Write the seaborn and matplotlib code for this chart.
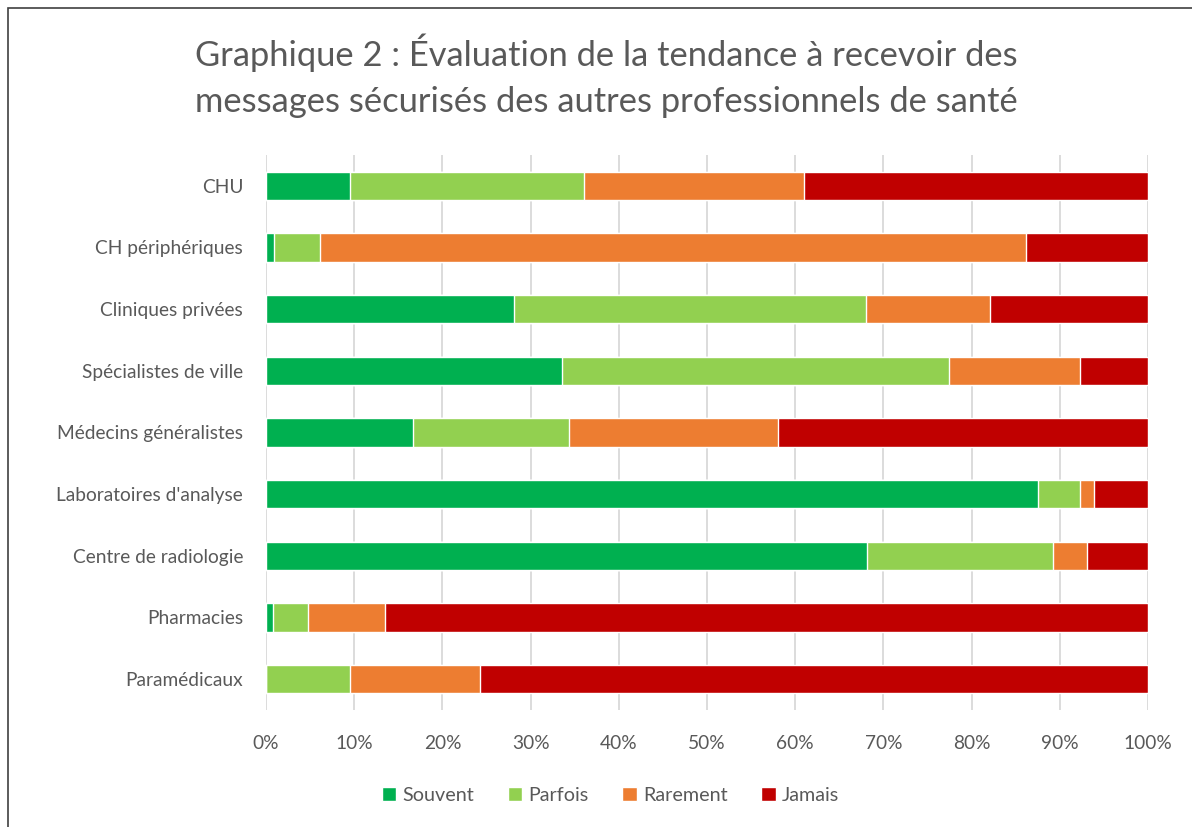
import numpy as np
import pandas as pd
import seaborn as sns
import matplotlib.pyplot as plt
from matplotlib.patches import Patch, Rectangle

# Données (en %)
categories = ["CHU", "CH périphériques", "Cliniques privées", "Spécialistes de ville",
              "Médecins généralistes", "Laboratoires d'analyse", "Centre de radiologie",
              "Pharmacies", "Paramédicaux"]
souvent = [9.5, 0.9, 28.1, 33.6, 16.7, 87.5, 68.2, 0.8, 0.0]
parfois = [26.6, 5.2, 39.9, 43.9, 17.6, 4.8, 21.0, 4.0, 9.5]
rarement = [24.9, 80.1, 14.1, 14.8, 23.7, 1.6, 3.9, 8.7, 14.8]
jamais = [39.0, 13.8, 17.9, 7.7, 42.0, 6.1, 6.9, 86.5, 75.7]
series = ["Souvent", "Parfois", "Rarement", "Jamais"]
couleurs = ["#00B050", "#92D050", "#ED7D31", "#C00000"]

df = pd.DataFrame({"Catégorie": categories, "Souvent": souvent, "Parfois": parfois,
                   "Rarement": rarement, "Jamais": jamais})
cumul = df[series].cumsum(axis=1)

sns.set_style("white")
plt.rcParams["font.family"] = ["Lato", "DejaVu Sans"]
gris = "#595959"

fig = plt.figure(figsize=(11.92, 8.27), dpi=100)
ax = fig.add_axes([0.2232, 0.1415, 0.7398, 0.6711])

# barres empilées : on trace les cumuls du plus grand au plus petit
for nom, couleur in reversed(list(zip(series, couleurs))):
    sns.barplot(x=cumul[nom], y=df["Catégorie"], color=couleur, orient="h",
                width=0.46, ax=ax, saturation=1, zorder=2)

ax.set_xlim(0, 100)
ax.set_ylim(8.5, -0.5)
ax.set_xticks(np.arange(0, 101, 10))
ax.set_xticklabels([f"{v}%" for v in range(0, 101, 10)])
ax.xaxis.grid(True, color="#D9D9D9", linewidth=1.3, zorder=0)
ax.set_axisbelow(True)
ax.set_xlabel("")
ax.set_ylabel("")
for s in ax.spines.values():
    s.set_visible(False)
ax.tick_params(axis="both", length=0, labelsize=13.8, labelcolor=gris)
ax.tick_params(axis="x", pad=18)
ax.tick_params(axis="y", pad=16.5)

fig.text(0.509, 0.908, "Graphique 2 : Évaluation de la tendance à recevoir des\nmessages sécurisés des autres professionnels de santé",
         ha="center", va="center", fontsize=24.8, color=gris, linespacing=1.55)

handles = [Patch(facecolor=c, label=n) for n, c in zip(series, couleurs)]
fig.legend(handles=handles, loc="center", bbox_to_anchor=(0.512, 0.038), ncol=4,
           frameon=False, fontsize=14.2, labelcolor=gris, handlelength=0.75,
           handleheight=0.75, handletextpad=0.3, columnspacing=1.7)

fig.add_artist(Rectangle((0.007, -0.01), 1.0, 1.0, transform=fig.transFigure,
                         fill=False, edgecolor="#404040", linewidth=1.2))

fig.savefig("out.png", dpi=100)
